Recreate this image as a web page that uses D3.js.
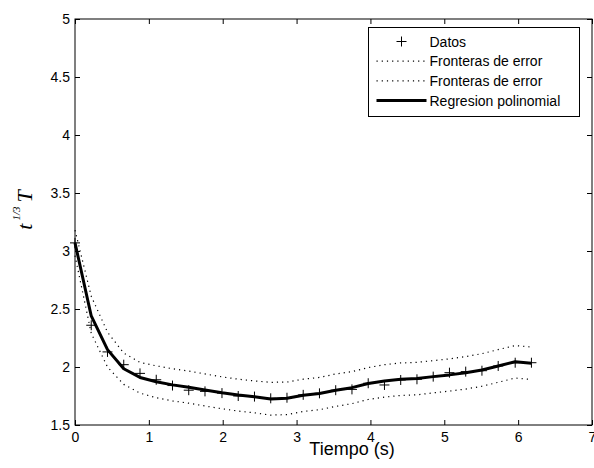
<!DOCTYPE html>
<html>
<head>
<meta charset="utf-8">
<script src="https://cdn.jsdelivr.net/npm/d3@7"></script>
<style>
  body { margin: 0; background: #fff; }
  svg { display: block; font-family: "Liberation Sans", Arial, Helvetica, sans-serif; }
  .tick text { font-size: 14px; fill: #000; }
  .tick line { stroke: #000; }
</style>
</head>
<body>
<svg id="chart" width="594" height="468"></svg>
<script>
// tiempo (s) de cada medida
const tiempo = [0, 0.22, 0.44, 0.66, 0.88, 1.10, 1.32, 1.54, 1.76, 1.99, 2.21, 2.43, 2.65, 2.87, 3.09,
  3.31, 3.53, 3.75, 3.97, 4.19, 4.41, 4.63, 4.85, 5.07, 5.29, 5.51, 5.73, 5.96, 6.18];

const datos = [3.07, 2.36, 2.13, 2.02, 1.945, 1.89, 1.84, 1.80, 1.79, 1.775, 1.75, 1.745, 1.73, 1.735, 1.76,
  1.773, 1.80, 1.807, 1.86, 1.845, 1.888, 1.894, 1.917, 1.951, 1.96, 1.968, 2.009, 2.037, 2.037];

const regresion = [3.07, 2.44, 2.15, 1.985, 1.91, 1.873, 1.846, 1.826, 1.802, 1.778, 1.759, 1.744, 1.725, 1.73, 1.757,
  1.772, 1.80, 1.822, 1.858, 1.88, 1.894, 1.90, 1.917, 1.932, 1.951, 1.974, 2.009, 2.045, 2.032];

const fronteraSup = [3.18, 2.61, 2.30, 2.12, 2.04, 2.01, 1.985, 1.965, 1.94, 1.915, 1.895, 1.88, 1.868, 1.87, 1.895,
  1.91, 1.94, 1.96, 1.995, 2.02, 2.035, 2.04, 2.055, 2.07, 2.09, 2.115, 2.15, 2.185, 2.172];

const fronteraInf = [2.96, 2.29, 2.00, 1.85, 1.775, 1.735, 1.708, 1.688, 1.664, 1.64, 1.62, 1.605, 1.585, 1.59, 1.617,
  1.632, 1.66, 1.684, 1.72, 1.74, 1.755, 1.76, 1.777, 1.792, 1.81, 1.834, 1.868, 1.905, 1.892];

const xTicks = [0, 1, 2, 3, 4, 5, 6, 7];
const yTicks = [1.5, 2, 2.5, 3, 3.5, 4, 4.5, 5];
const leyenda = ['Datos', 'Fronteras de error', 'Fronteras de error', 'Regresion polinomial'];

const margin = { top: 19, right: 2, bottom: 43, left: 75 };
const width = 594, height = 468;
const w = width - margin.left - margin.right;
const h = height - margin.top - margin.bottom;

const svg = d3.select('#chart');
const g = svg.append('g').attr('transform', 'translate(' + margin.left + ',' + margin.top + ')');

const x = d3.scaleLinear().domain([0, 7]).range([0, w]);
const y = d3.scaleLinear().domain([1.5, 5]).range([h, 0]);

// ejes (ticks hacia dentro, como matlab)
g.append('g')
  .attr('transform', 'translate(0,' + h + ')')
  .call(d3.axisBottom(x).tickValues(xTicks).tickSizeInner(-5).tickSizeOuter(0).tickPadding(7).tickFormat(d3.format('d')))
  .call(s => s.select('.domain').remove());

g.append('g')
  .call(d3.axisLeft(y).tickValues(yTicks).tickSizeInner(-5).tickSizeOuter(0).tickPadding(5).tickFormat(d => d))
  .call(s => s.select('.domain').remove());

g.append('g')
  .call(d3.axisTop(x).tickValues(xTicks).tickSizeInner(-5).tickSizeOuter(0).tickFormat(''))
  .call(s => s.select('.domain').remove());

g.append('g')
  .attr('transform', 'translate(' + w + ',0)')
  .call(d3.axisRight(y).tickValues(yTicks).tickSizeInner(-5).tickSizeOuter(0).tickFormat(''))
  .call(s => s.select('.domain').remove());

g.selectAll('.tick text').attr('fill', '#000');

g.append('rect')
  .attr('x', 0).attr('y', 0)
  .attr('width', w).attr('height', h)
  .attr('fill', 'none').attr('stroke', '#000').attr('stroke-width', 1);

const line = d3.line()
  .x(d => x(d[0]))
  .y(d => y(d[1]));

[fronteraSup, fronteraInf].forEach(function(serie) {
  g.append('path')
    .datum(tiempo.map((t, i) => [t, serie[i]]))
    .attr('d', line)
    .attr('fill', 'none')
    .attr('stroke', '#000')
    .attr('stroke-width', 1.2)
    .attr('stroke-dasharray', '1.2,4');
});

g.append('path')
  .datum(tiempo.map((t, i) => [t, regresion[i]]))
  .attr('d', line)
  .attr('fill', 'none')
  .attr('stroke', '#000')
  .attr('stroke-width', 3)
  .attr('stroke-linejoin', 'round');

const cruz = 'M-5,0H5M0,-5V5';
g.selectAll('.dato')
  .data(tiempo.map((t, i) => [t, datos[i]]))
  .enter().append('path')
  .attr('class', 'dato')
  .attr('transform', d => 'translate(' + x(d[0]) + ',' + y(d[1]) + ')')
  .attr('d', cruz)
  .attr('stroke', '#000')
  .attr('stroke-width', 1);

// leyenda
const leg = svg.append('g').attr('transform', 'translate(368.5,27.5)');
leg.append('rect')
  .attr('width', 211).attr('height', 89)
  .attr('fill', '#fff').attr('stroke', '#000').attr('stroke-width', 1);

leyenda.forEach(function(txt, i) {
  const yy = 14 + i * 19.7;
  if (i === 0) {
    leg.append('path').attr('transform', 'translate(33,' + yy + ')').attr('d', cruz).attr('stroke', '#000');
  } else if (i < 3) {
    leg.append('line').attr('x1', 8).attr('x2', 58).attr('y1', yy).attr('y2', yy)
      .attr('stroke', '#000').attr('stroke-width', 1.2).attr('stroke-dasharray', '1.2,4');
  } else {
    leg.append('line').attr('x1', 8).attr('x2', 58).attr('y1', yy).attr('y2', yy)
      .attr('stroke', '#000').attr('stroke-width', 3);
  }
  leg.append('text')
    .attr('x', 61).attr('y', yy + 5)
    .attr('font-size', 14)
    .text(txt);
});

// titulos de ejes
svg.append('text')
  .attr('x', 352).attr('y', 455)
  .attr('text-anchor', 'middle')
  .attr('font-size', 18)
  .text('Tiempo (s)');

const yl = svg.append('text')
  .attr('transform', 'translate(32,210) rotate(-90)')
  .attr('text-anchor', 'middle')
  .attr('font-family', '"Liberation Serif", "Times New Roman", serif')
  .attr('font-style', 'italic')
  .attr('font-size', 22);
yl.append('tspan').text('t');
yl.append('tspan').attr('font-size', 11).attr('dx', 3).attr('dy', -12).text('1/3');
yl.append('tspan').attr('dy', 12).attr('dx', 4).text('T');
</script>
</body>
</html>
